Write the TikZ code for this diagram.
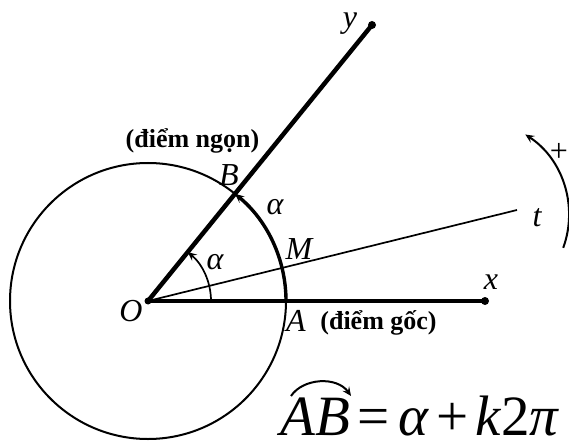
\documentclass[tikz,border=0pt]{standalone}
\usepackage{fontspec}
\setmainfont{Liberation Serif}
\usetikzlibrary{arrows.meta,calc}
\begin{document}
\begin{tikzpicture}[x=1pt,y=-1pt,
  axisline/.style={line width=4.5pt},
  thinline/.style={line width=1.7pt},
  circleline/.style={line width=2pt},
  arcthick/.style={line width=3.4pt},
  tipped/.style={-{Stealth[length=9pt,width=8pt,inset=3.5pt]}},
  lbl/.style={font=\fontsize{32}{32}\selectfont\itshape, inner sep=0pt},
  note/.style={font=\fontsize{26}{26}\selectfont\bfseries, inner sep=0pt},
  plain/.style={font=\fontsize{32}{32}\selectfont, inner sep=0pt},
  formula/.style={font=\fontsize{57}{57}\selectfont, inner sep=0pt, text depth=0pt, anchor=base west}]
\useasboundingbox (0,0) rectangle (569,443);
% points
\coordinate (O) at (148,301);
\coordinate (X) at (485,301);
\coordinate (Y) at (372,25);
\coordinate (T) at (517,210);
\coordinate (A) at (286,301);
\coordinate (S) at (211,301);
\coordinate (P) at ($(473,215)+(20:96)$);
% circle
\draw[circleline] (O) circle[radius=138];
% rays
\draw[thinline] (O) -- (T);
\draw[axisline] (O) -- (X);
\draw[axisline] (O) -- (Y);
\fill (O) circle[radius=3.5];
\fill (X) circle[radius=4];
\fill (Y) circle[radius=4];
% arc AB
\draw[arcthick, tipped] (A) arc[start angle=0, end angle=-50.9, radius=138];
% small angle arc
\draw[thinline, tipped] (S) arc[start angle=0, end angle=-50.9, radius=63];
% positive orientation arc
\draw[circleline, tipped] (P) arc[start angle=20, end angle=-57, radius=96];
% labels
\node[lbl] (ly) at (350,24) {y};
\node[lbl] (lx) at (491,282) {x};
\node[lbl] (lt) at (537,218) {t};
\node[lbl] (lO) at (131,311) {O};
\node[lbl] (lA) at (296,321) {A};
\node[lbl] (lB) at (229,175) {B};
\node[lbl] (lM) at (299,249) {M};
\node[lbl] (la1) at (275,207) {α};
\node[lbl] (la2) at (215,262) {α};
\node[plain] (lplus) at (559,152) {+};
\node[note] (ngon) at (192.5,141) {(điểm ngọn)};
\node[note] (goc) at (378.5,323) {(điểm gốc)};
% formula
\node[formula] (eqn) at (280,435) {\itshape AB\hspace{0.14em}\upshape=\hspace{0.15em}\itshape α\hspace{0.15em}\upshape+\hspace{0.12em}\itshape k\upshape 2\itshape π};
\coordinate (arcL) at (291,396);
\coordinate (arcR) at (351,396);
\draw[circleline, tipped] (arcL) .. controls (303,378) and (337,376) .. (arcR);
\end{tikzpicture}
\end{document}
